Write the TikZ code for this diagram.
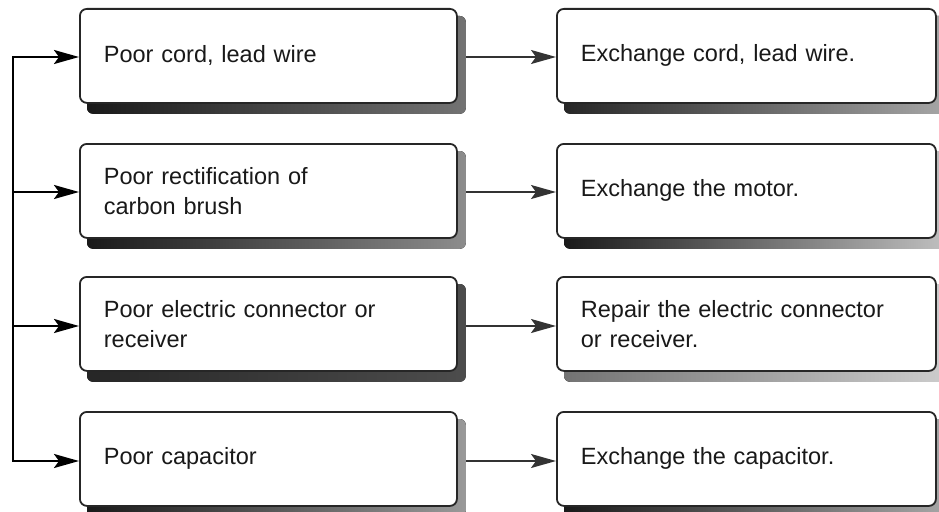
\documentclass[tikz,border=0pt]{standalone}
\usepackage{fontspec}
\setmainfont{Liberation Sans}
\usetikzlibrary{arrows.meta,backgrounds}
\begin{document}
\begin{tikzpicture}[x=1pt,y=-1pt,
  box/.style={draw=black!85,line width=1.8pt,rounded corners=7pt,fill=white,
    minimum height=94pt,inner xsep=24pt,inner ysep=0pt,align=left,
    font=\fontsize{23.5}{30}\selectfont,text=black!90,anchor=north west},
  lbox/.style={box,text width=329pt},
  rbox/.style={box,text width=331pt},
  tree/.style={line width=2.4pt,black,line cap=rect},
  tip/.style={-{Stealth[length=25pt,width=14pt,inset=5pt]}},
  link/.style={line width=1.8pt,black!80,-{Stealth[length=25pt,width=14pt,inset=5pt]}},
  shad/.style={rounded corners=6pt}]
\useasboundingbox (0,0) rectangle (939,511);
% left boxes
\node[lbox] (l1) at (79,8) {Poor cord, lead wire};
\node[lbox] (l2) at (79,143) {Poor rectification of\\carbon brush};
\node[lbox] (l3) at (79,276) {Poor electric connector or\\receiver};
\node[lbox] (l4) at (79,411) {Poor capacitor};
% right boxes
\node[rbox] (r1) at (556,8) {Exchange cord, lead wire.};
\node[rbox] (r2) at (556,143) {Exchange the motor.};
\node[rbox] (r3) at (556,276) {Repair the electric connector\\or receiver.};
\node[rbox] (r4) at (556,411) {Exchange the capacitor.};
\coordinate (c1) at (13,57);
\coordinate (c2) at (13,192);
\coordinate (c3) at (13,326);
\coordinate (c4) at (13,461);
\begin{pgfonlayer}{background}
  % connectors
  \draw[tree] (c1) -- (c4);
  \draw[tree,tip] (c1) -- (c1 -| l1.west);
  \draw[tree,tip] (c2) -- (c2 -| l2.west);
  \draw[tree,tip] (c3) -- (c3 -| l3.west);
  \draw[tree,tip] (c4) -- (c4 -| l4.west);
  \draw[link] (c1 -| l1.east) -- (c1 -| r1.west);
  \draw[link] (c2 -| l2.east) -- (c2 -| r2.west);
  \draw[link] (c3 -| l3.east) -- (c3 -| r3.west);
  \draw[link] (c4 -| l4.east) -- (c4 -| r4.west);
  % shadows
  \fill[shad,left color=black!90,right color=black!55] ([shift={(8,8)}]l1.north west) rectangle ([shift={(8,10)}]l1.south east);
  \fill[shad,left color=black!90,right color=black!45] ([shift={(8,8)}]l2.north west) rectangle ([shift={(8,10)}]l2.south east);
  \fill[shad,left color=black!85,middle color=black!20,right color=black!70] ([shift={(8,8)}]l3.north west) rectangle ([shift={(8,10)}]l3.south east);
  \fill[shad,left color=black!90,middle color=black!75,right color=black!40] ([shift={(8,8)}]l4.north west) rectangle ([shift={(8,10)}]l4.south east);
  \fill[shad,left color=black!85,middle color=black!90,right color=black!35] ([shift={(8,8)}]r1.north west) rectangle ([shift={(8,10)}]r1.south east);
  \fill[shad,left color=black!90,right color=black!25] ([shift={(8,8)}]r2.north west) rectangle ([shift={(8,10)}]r2.south east);
  \fill[shad,left color=black!55,right color=black!20] ([shift={(8,8)}]r3.north west) rectangle ([shift={(8,10)}]r3.south east);
  \fill[shad,left color=black!90,right color=black!35] ([shift={(8,8)}]r4.north west) rectangle ([shift={(8,10)}]r4.south east);
\end{pgfonlayer}
\end{tikzpicture}
\end{document}
